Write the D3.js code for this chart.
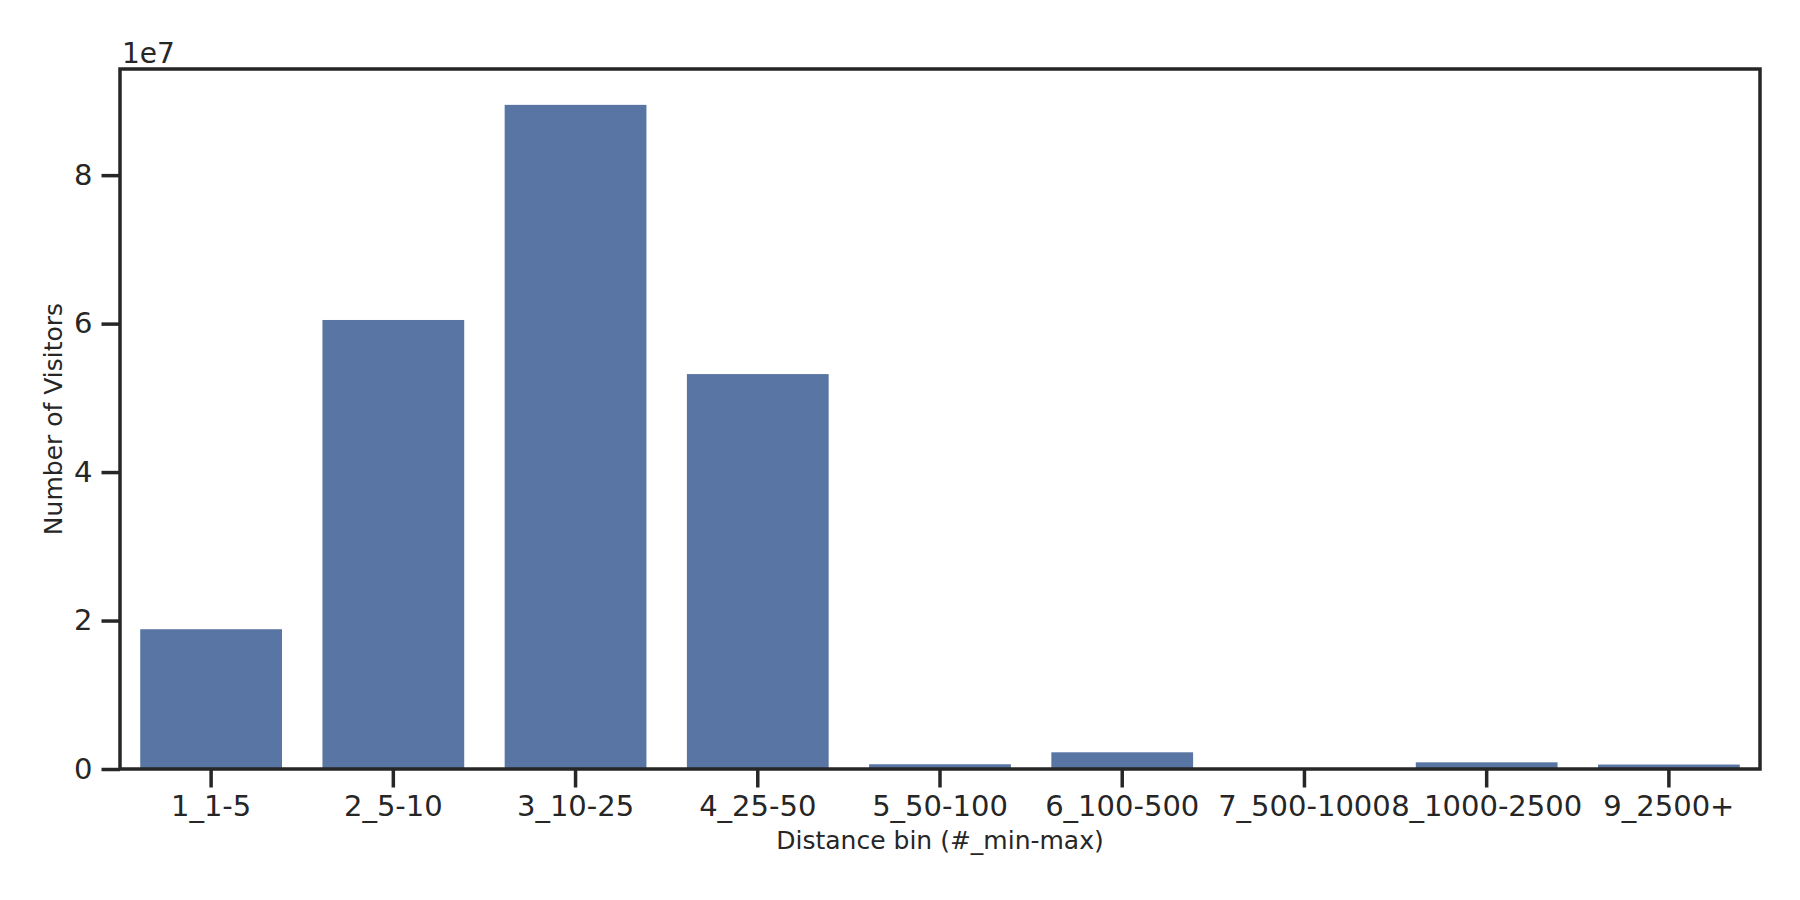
<!DOCTYPE html>
<html>
<head>
<meta charset="utf-8">
<script src="https://cdn.jsdelivr.net/npm/d3@7"></script>
<style>
  body { margin: 0; background: #fff; }
  svg { display: block; font-family: "DejaVu Sans", sans-serif; }
  .tick text { fill: #262626; }
</style>
</head>
<body>
<svg id="chart" width="1800" height="900"></svg>
<script>
// distance bins and visitor counts
const categories = ['1_1-5', '2_5-10', '3_10-25', '4_25-50', '5_50-100', '6_100-500', '7_500-1000', '8_1000-2500', '9_2500+'];
const visitors = [18830000, 60490000, 89470000, 53200000, 640000, 2250000, 20000, 900000, 600000];
const yTicks = [0, 2e7, 4e7, 6e7, 8e7];
const yMax = 9.43e7;

const width = 1800, height = 900;
const margin = { top: 69, right: 40, bottom: 131, left: 120 };
const ink = '#262626';
const lw = 3.5;

const svg = d3.select('#chart');

let x = d3.scaleBand()
  .domain(categories)
  .range([margin.left, width - margin.right])
  .paddingInner(0.222)
  .paddingOuter(0.111);

let y = d3.scaleLinear()
  .domain([0, yMax])
  .range([height - margin.bottom, margin.top]);

// bars
svg.append('g')
  .selectAll('rect')
  .data(categories.map((c, i) => ({ c, v: visitors[i] })))
  .enter()
    .append('rect')
    .attr('x', d => x(d.c))
    .attr('y', d => y(d.v))
    .attr('width', x.bandwidth())
    .attr('height', d => y(0) - y(d.v))
    .attr('fill', '#5975a4');

// x axis
let xAxis = svg.append('g')
  .attr('transform', `translate(0,${height - margin.bottom})`)
  .call(d3.axisBottom(x).tickSize(18.5).tickPadding(8).tickSizeOuter(0))
  .call(g => g.select('.domain').remove());
xAxis.selectAll('line').attr('stroke', ink).attr('stroke-width', lw);
xAxis.selectAll('text').attr('font-size', 29).attr('font-family', '"DejaVu Sans", sans-serif');

// y axis
let yAxis = svg.append('g')
  .attr('transform', `translate(${margin.left},0)`)
  .call(d3.axisLeft(y).tickValues(yTicks).tickFormat(d => d / 1e7).tickSize(18.5).tickPadding(9))
  .call(g => g.select('.domain').remove());
yAxis.selectAll('line').attr('stroke', ink).attr('stroke-width', lw);
yAxis.selectAll('text').attr('font-size', 29).attr('font-family', '"DejaVu Sans", sans-serif');

// frame
svg.append('rect')
  .attr('x', margin.left)
  .attr('y', margin.top)
  .attr('width', width - margin.left - margin.right)
  .attr('height', height - margin.top - margin.bottom)
  .attr('fill', 'none')
  .attr('stroke', ink)
  .attr('stroke-width', lw);

// offset text
svg.append('text')
  .attr('x', margin.left + 2)
  .attr('y', 63)
  .attr('font-size', 28)
  .attr('fill', ink)
  .text('1e7');

// axis labels
svg.append('text')
  .attr('x', (margin.left + width - margin.right) / 2)
  .attr('y', 849)
  .attr('text-anchor', 'middle')
  .attr('font-size', 25)
  .attr('fill', ink)
  .text('Distance bin (#_min-max)');

svg.append('text')
  .attr('transform', `translate(62,${(margin.top + height - margin.bottom) / 2}) rotate(-90)`)
  .attr('text-anchor', 'middle')
  .attr('font-size', 25)
  .attr('fill', ink)
  .text('Number of Visitors');
</script>
</body>
</html>
